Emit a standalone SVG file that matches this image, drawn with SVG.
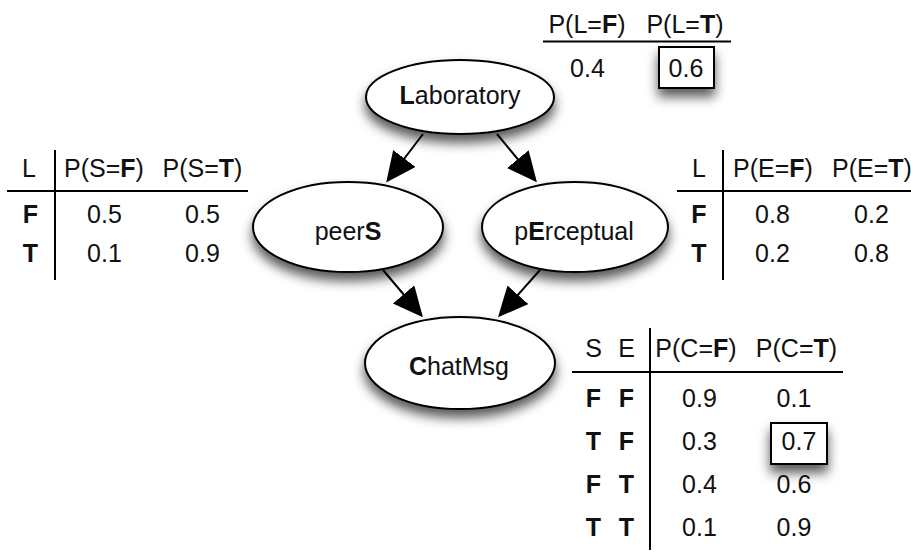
<svg xmlns="http://www.w3.org/2000/svg" width="911" height="558" viewBox="0 0 911 558">
<style>
text{font-family:"Liberation Sans",Arial,Helvetica,sans-serif;font-size:25px;fill:#111}
.m{text-anchor:middle}
.b{font-weight:bold}
.node{fill:#fff;stroke:#000;stroke-width:2;filter:url(#sh)}
.box{fill:#fff;stroke:#000;stroke-width:2;filter:url(#sh)}
.rule{stroke:#000;stroke-width:2;fill:none}
.edge{stroke:#000;stroke-width:2;fill:none;marker-end:url(#ah)}
</style>
<defs>
<filter id="sh" x="-30%" y="-30%" width="160%" height="190%">
<feDropShadow dx="0" dy="8" stdDeviation="6" flood-color="#000" flood-opacity="0.65"/>
</filter>
<marker id="ah" markerUnits="userSpaceOnUse" markerWidth="32" markerHeight="30" refX="27" refY="14" orient="auto" viewBox="0 0 32 30">
<path d="M0,0 L30,14 L0,28 z" fill="#000"/>
</marker>
</defs>
<rect width="911" height="558" fill="#fff"/>

<g id="connectors">
<path class="edge" d="M423,134 L388,180"/>
<path class="edge" d="M497,134 L535,180"/>
<path class="edge" d="M383,270 L421,315"/>
<path class="edge" d="M540,270 L500,315"/>
</g>

<g id="node-laboratory">
<ellipse class="node" cx="460" cy="97" rx="94" ry="37"/>
<text class="m" x="460" y="104"><tspan class="b">L</tspan>aboratory</text>
</g>
<g id="node-peers">
<ellipse class="node" cx="348" cy="227" rx="95" ry="45"/>
<text class="m" x="348" y="240">peer<tspan class="b">S</tspan></text>
</g>
<g id="node-perceptual">
<ellipse class="node" cx="575" cy="227" rx="93" ry="45"/>
<text class="m" x="574" y="240">p<tspan class="b">E</tspan>rceptual</text>
</g>
<g id="node-chatmsg">
<ellipse class="node" cx="460" cy="363" rx="95" ry="46"/>
<text class="m" x="459" y="375"><tspan class="b">C</tspan>hatMsg</text>
</g>

<g id="table-L">
<text class="m" x="587" y="33">P(L=<tspan class="b">F</tspan>)</text>
<text class="m" x="685" y="33">P(L=<tspan class="b">T</tspan>)</text>
<line class="rule" x1="543" y1="41.5" x2="731" y2="41.5"/>
<text class="m" x="587.5" y="77">0.4</text>
<rect class="box" x="659" y="47" width="55" height="41"/>
<text class="m" x="686" y="77">0.6</text>
</g>

<g id="table-S">
<text class="m" x="29" y="177">L</text>
<text class="m" x="104" y="177">P(S=<tspan class="b">F</tspan>)</text>
<text class="m" x="202.5" y="177">P(S=<tspan class="b">T</tspan>)</text>
<line class="rule" x1="7" y1="191" x2="248" y2="191"/>
<line class="rule" x1="55" y1="150" x2="55" y2="280"/>
<text class="m b" x="30.5" y="223">F</text>
<text class="m" x="104.5" y="223">0.5</text>
<text class="m" x="202.5" y="223">0.5</text>
<text class="m b" x="30.5" y="262">T</text>
<text class="m" x="104.5" y="262">0.1</text>
<text class="m" x="202.5" y="262">0.9</text>
</g>

<g id="table-E">
<text class="m" x="699" y="177">L</text>
<text class="m" x="773" y="177">P(E=<tspan class="b">F</tspan>)</text>
<text class="m" x="872" y="177">P(E=<tspan class="b">T</tspan>)</text>
<line class="rule" x1="677" y1="191" x2="911" y2="191"/>
<line class="rule" x1="723" y1="150" x2="723" y2="280"/>
<text class="m b" x="699" y="223">F</text>
<text class="m" x="772.5" y="223">0.8</text>
<text class="m" x="871.5" y="223">0.2</text>
<text class="m b" x="699" y="262">T</text>
<text class="m" x="772.5" y="262">0.2</text>
<text class="m" x="871.5" y="262">0.8</text>
</g>

<g id="table-C">
<text class="m" x="593.5" y="357">S</text>
<text class="m" x="626.5" y="357">E</text>
<text class="m" x="696" y="357">P(C=<tspan class="b">F</tspan>)</text>
<text class="m" x="796.5" y="357">P(C=<tspan class="b">T</tspan>)</text>
<line class="rule" x1="572" y1="372" x2="843" y2="372"/>
<line class="rule" x1="650" y1="328" x2="650" y2="550"/>
<text class="m b" x="593.5" y="407">F</text><text class="m b" x="626.5" y="407">F</text>
<text class="m" x="699.5" y="407">0.9</text><text class="m" x="794" y="407">0.1</text>
<rect class="box" x="771" y="423" width="56" height="41"/>
<text class="m b" x="593.5" y="450">T</text><text class="m b" x="626.5" y="450">F</text>
<text class="m" x="699.5" y="450">0.3</text><text class="m" x="799" y="450">0.7</text>
<text class="m b" x="593.5" y="493">F</text><text class="m b" x="626.5" y="493">T</text>
<text class="m" x="699.5" y="493">0.4</text><text class="m" x="794" y="493">0.6</text>
<text class="m b" x="593.5" y="536">T</text><text class="m b" x="626.5" y="536">T</text>
<text class="m" x="699.5" y="536">0.1</text><text class="m" x="794" y="536">0.9</text>
</g>
</svg>
